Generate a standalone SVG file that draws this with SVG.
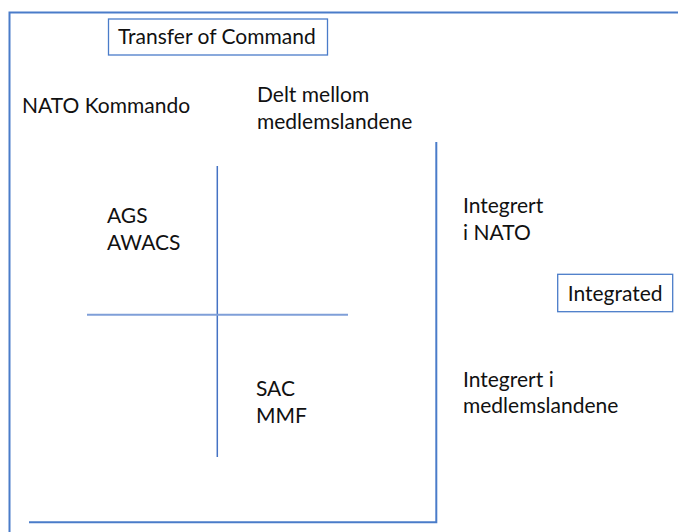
<svg xmlns="http://www.w3.org/2000/svg" width="678" height="532" viewBox="0 0 678 532">
<style>
.t{font-family:Lato,"Liberation Sans",sans-serif;font-size:21px;fill:#111}
.frame{fill:none;stroke:#4a7cc9;stroke-width:2}
.box{fill:#fff;stroke:#4a7cc9;stroke-width:1.3}
.ax{stroke:#4472c4;stroke-width:1.5}
.axl{stroke:#7f9fd8;stroke-width:2}
</style>
<rect width="678" height="532" fill="#fff"/>
<g id="frame">
<path class="frame" d="M9.5,532 V12.5 H678"/>
</g>
<g id="connectors">
<line class="ax" x1="217.3" y1="166" x2="217.3" y2="457"/>
<line class="axl" x1="87" y1="314.7" x2="348" y2="314.7"/>
<path class="frame" d="M436.3,142 V522.3 H29"/>
</g>
<g id="transfer">
<rect class="box" x="108.5" y="19" width="219" height="36"/>
<text class="t" x="118" y="44">Transfer of Command</text>
</g>
<g id="nato-kommando"><text class="t" x="22" y="113">NATO Kommando</text></g>
<g id="delt"><text class="t" x="257" y="102">Delt mellom</text><text class="t" x="257" y="129">medlemslandene</text></g>
<g id="ags"><text class="t" x="107" y="223">AGS</text><text class="t" x="107" y="249.5">AWACS</text></g>
<g id="sac"><text class="t" x="256" y="396">SAC</text><text class="t" x="256" y="422.7">MMF</text></g>
<g id="integrert-nato"><text class="t" x="463" y="213">Integrert</text><text class="t" x="463" y="239.5">i NATO</text></g>
<g id="integrated">
<rect class="box" x="557.7" y="274.3" width="115" height="37.4"/>
<text class="t" x="567.7" y="301">Integrated</text>
</g>
<g id="integrert-medlem"><text class="t" x="463" y="386.7">Integrert i</text><text class="t" x="463" y="413.3">medlemslandene</text></g>
</svg>
